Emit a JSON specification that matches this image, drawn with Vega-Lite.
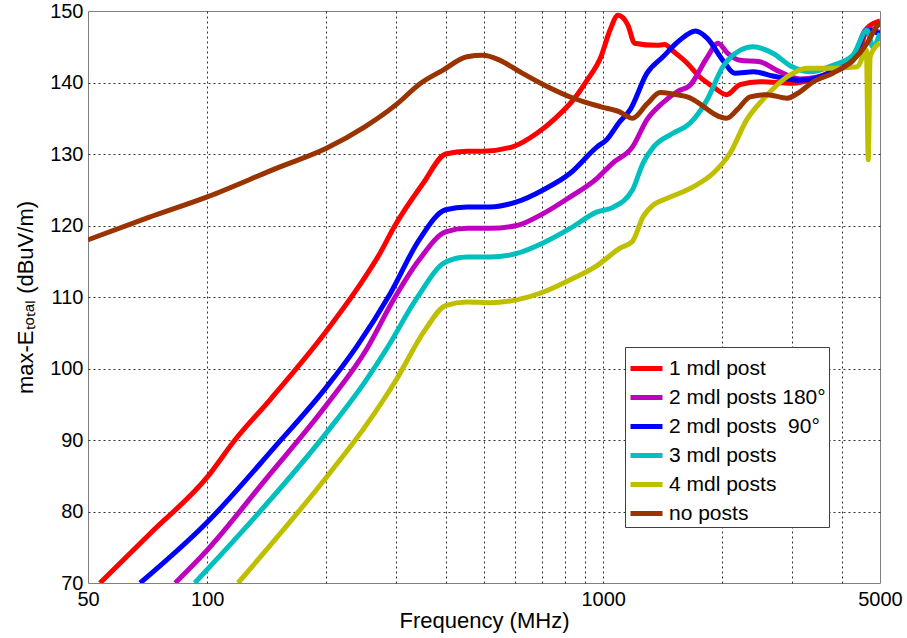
{
  "$schema": "https://vega.github.io/schema/vega-lite/v6.json",
  "width": 792,
  "height": 572,
  "autosize": {"type": "none"},
  "padding": {"left": 88, "top": 11, "right": 27, "bottom": 55},
  "background": "white",
  "config": {
    "font": "Liberation Sans",
    "view": {"stroke": "#808080", "strokeWidth": 1},
    "axis": {
      "gridColor": {"condition": {"test": "datum.value == 50 || datum.value == 5000 || datum.value == 70 || datum.value == 150", "value": "transparent"}, "value": "#303030"},
      "gridDash": [2, 3],
      "gridOpacity": 1,
      "gridWidth": 1,
      "domain": false,
      "ticks": false,
      "labelFontSize": 20,
      "labelColor": "black",
      "titleColor": "black",
      "titleFontWeight": "normal",
      "titleFontSize": 22,
      "labelFont": "Liberation Sans",
      "titleFont": "Liberation Sans"
    }
  },
  "data": {
    "values": [
      {"s": "1 mdl post", "f": 53.6, "e": 70},
      {"s": "1 mdl post", "f": 72, "e": 77},
      {"s": "1 mdl post", "f": 100, "e": 84.8},
      {"s": "1 mdl post", "f": 117.5, "e": 90},
      {"s": "1 mdl post", "f": 145, "e": 95.8},
      {"s": "1 mdl post", "f": 198.5, "e": 105},
      {"s": "1 mdl post", "f": 245, "e": 112},
      {"s": "1 mdl post", "f": 273, "e": 116.1},
      {"s": "1 mdl post", "f": 298, "e": 120},
      {"s": "1 mdl post", "f": 351, "e": 125.9},
      {"s": "1 mdl post", "f": 400, "e": 130},
      {"s": "1 mdl post", "f": 453, "e": 130.4},
      {"s": "1 mdl post", "f": 497, "e": 130.4},
      {"s": "1 mdl post", "f": 590, "e": 131},
      {"s": "1 mdl post", "f": 680, "e": 132.9},
      {"s": "1 mdl post", "f": 764, "e": 135.2},
      {"s": "1 mdl post", "f": 841, "e": 137.6},
      {"s": "1 mdl post", "f": 910, "e": 140.3},
      {"s": "1 mdl post", "f": 987, "e": 143.6},
      {"s": "1 mdl post", "f": 1040, "e": 147.3},
      {"s": "1 mdl post", "f": 1090, "e": 149.4},
      {"s": "1 mdl post", "f": 1155, "e": 148},
      {"s": "1 mdl post", "f": 1200, "e": 145.5},
      {"s": "1 mdl post", "f": 1365, "e": 145.2},
      {"s": "1 mdl post", "f": 1430, "e": 145.3},
      {"s": "1 mdl post", "f": 1500, "e": 144.4},
      {"s": "1 mdl post", "f": 1630, "e": 142.7},
      {"s": "1 mdl post", "f": 1751, "e": 140.8},
      {"s": "1 mdl post", "f": 1895, "e": 139.4},
      {"s": "1 mdl post", "f": 2050, "e": 138.3},
      {"s": "1 mdl post", "f": 2215, "e": 139.7},
      {"s": "1 mdl post", "f": 2486, "e": 140.1},
      {"s": "1 mdl post", "f": 3000, "e": 139.9},
      {"s": "1 mdl post", "f": 3400, "e": 140.5},
      {"s": "1 mdl post", "f": 3800, "e": 141.7},
      {"s": "1 mdl post", "f": 4270, "e": 143.5},
      {"s": "1 mdl post", "f": 4500, "e": 145.5},
      {"s": "1 mdl post", "f": 4640, "e": 147.6},
      {"s": "1 mdl post", "f": 5000, "e": 148.6},

      {"s": "2 mdl posts 180°", "f": 83, "e": 70},
      {"s": "2 mdl posts 180°", "f": 100, "e": 74.6},
      {"s": "2 mdl posts 180°", "f": 140, "e": 84.4},
      {"s": "2 mdl posts 180°", "f": 200, "e": 94.9},
      {"s": "2 mdl posts 180°", "f": 254, "e": 102.9},
      {"s": "2 mdl posts 180°", "f": 294, "e": 109.4},
      {"s": "2 mdl posts 180°", "f": 343, "e": 115.2},
      {"s": "2 mdl posts 180°", "f": 400, "e": 119.1},
      {"s": "2 mdl posts 180°", "f": 453, "e": 119.6},
      {"s": "2 mdl posts 180°", "f": 518, "e": 119.6},
      {"s": "2 mdl posts 180°", "f": 605, "e": 120},
      {"s": "2 mdl posts 180°", "f": 707, "e": 121.7},
      {"s": "2 mdl posts 180°", "f": 825, "e": 124},
      {"s": "2 mdl posts 180°", "f": 965, "e": 126.6},
      {"s": "2 mdl posts 180°", "f": 1055, "e": 128.7},
      {"s": "2 mdl posts 180°", "f": 1186, "e": 131},
      {"s": "2 mdl posts 180°", "f": 1290, "e": 134.8},
      {"s": "2 mdl posts 180°", "f": 1416, "e": 137.2},
      {"s": "2 mdl posts 180°", "f": 1546, "e": 138.8},
      {"s": "2 mdl posts 180°", "f": 1656, "e": 139.6},
      {"s": "2 mdl posts 180°", "f": 1830, "e": 143.5},
      {"s": "2 mdl posts 180°", "f": 1950, "e": 145.5},
      {"s": "2 mdl posts 180°", "f": 2060, "e": 144.1},
      {"s": "2 mdl posts 180°", "f": 2215, "e": 143.1},
      {"s": "2 mdl posts 180°", "f": 2486, "e": 142.9},
      {"s": "2 mdl posts 180°", "f": 2745, "e": 141.7},
      {"s": "2 mdl posts 180°", "f": 3140, "e": 140.5},
      {"s": "2 mdl posts 180°", "f": 3800, "e": 141.5},
      {"s": "2 mdl posts 180°", "f": 4270, "e": 143.3},
      {"s": "2 mdl posts 180°", "f": 4640, "e": 147.5},
      {"s": "2 mdl posts 180°", "f": 5000, "e": 147},

      {"s": "2 mdl posts\u00a0 90°", "f": 67.7, "e": 70},
      {"s": "2 mdl posts\u00a0 90°", "f": 100, "e": 78.5},
      {"s": "2 mdl posts\u00a0 90°", "f": 148, "e": 89},
      {"s": "2 mdl posts\u00a0 90°", "f": 200, "e": 97.4},
      {"s": "2 mdl posts\u00a0 90°", "f": 238, "e": 103},
      {"s": "2 mdl posts\u00a0 90°", "f": 290, "e": 110.5},
      {"s": "2 mdl posts\u00a0 90°", "f": 343, "e": 118},
      {"s": "2 mdl posts\u00a0 90°", "f": 400, "e": 122.2},
      {"s": "2 mdl posts\u00a0 90°", "f": 453, "e": 122.6},
      {"s": "2 mdl posts\u00a0 90°", "f": 518, "e": 122.6},
      {"s": "2 mdl posts\u00a0 90°", "f": 605, "e": 123.3},
      {"s": "2 mdl posts\u00a0 90°", "f": 707, "e": 125},
      {"s": "2 mdl posts\u00a0 90°", "f": 825, "e": 127.3},
      {"s": "2 mdl posts\u00a0 90°", "f": 965, "e": 131},
      {"s": "2 mdl posts\u00a0 90°", "f": 1020, "e": 132},
      {"s": "2 mdl posts\u00a0 90°", "f": 1100, "e": 134.5},
      {"s": "2 mdl posts\u00a0 90°", "f": 1170, "e": 136.2},
      {"s": "2 mdl posts\u00a0 90°", "f": 1290, "e": 141.3},
      {"s": "2 mdl posts\u00a0 90°", "f": 1416, "e": 143.6},
      {"s": "2 mdl posts\u00a0 90°", "f": 1560, "e": 145.9},
      {"s": "2 mdl posts\u00a0 90°", "f": 1710, "e": 147.2},
      {"s": "2 mdl posts\u00a0 90°", "f": 1830, "e": 146.2},
      {"s": "2 mdl posts\u00a0 90°", "f": 2005, "e": 143.1},
      {"s": "2 mdl posts\u00a0 90°", "f": 2150, "e": 141.3},
      {"s": "2 mdl posts\u00a0 90°", "f": 2400, "e": 141.5},
      {"s": "2 mdl posts\u00a0 90°", "f": 2680, "e": 140.9},
      {"s": "2 mdl posts\u00a0 90°", "f": 3140, "e": 140.3},
      {"s": "2 mdl posts\u00a0 90°", "f": 3800, "e": 141.5},
      {"s": "2 mdl posts\u00a0 90°", "f": 4270, "e": 143.1},
      {"s": "2 mdl posts\u00a0 90°", "f": 4640, "e": 147.3},
      {"s": "2 mdl posts\u00a0 90°", "f": 5000, "e": 146.8},

      {"s": "3 mdl posts", "f": 93, "e": 70},
      {"s": "3 mdl posts", "f": 121.6, "e": 77},
      {"s": "3 mdl posts", "f": 200, "e": 91},
      {"s": "3 mdl posts", "f": 250, "e": 98.1},
      {"s": "3 mdl posts", "f": 285, "e": 102.9},
      {"s": "3 mdl posts", "f": 338, "e": 109.8},
      {"s": "3 mdl posts", "f": 400, "e": 114.9},
      {"s": "3 mdl posts", "f": 453, "e": 115.6},
      {"s": "3 mdl posts", "f": 518, "e": 115.6},
      {"s": "3 mdl posts", "f": 605, "e": 116.1},
      {"s": "3 mdl posts", "f": 707, "e": 117.6},
      {"s": "3 mdl posts", "f": 825, "e": 119.6},
      {"s": "3 mdl posts", "f": 965, "e": 121.9},
      {"s": "3 mdl posts", "f": 1055, "e": 122.5},
      {"s": "3 mdl posts", "f": 1186, "e": 125},
      {"s": "3 mdl posts", "f": 1260, "e": 128.7},
      {"s": "3 mdl posts", "f": 1340, "e": 131},
      {"s": "3 mdl posts", "f": 1500, "e": 132.9},
      {"s": "3 mdl posts", "f": 1656, "e": 134.3},
      {"s": "3 mdl posts", "f": 1830, "e": 137.6},
      {"s": "3 mdl posts", "f": 2005, "e": 142.2},
      {"s": "3 mdl posts", "f": 2215, "e": 144.5},
      {"s": "3 mdl posts", "f": 2390, "e": 145},
      {"s": "3 mdl posts", "f": 2680, "e": 144.1},
      {"s": "3 mdl posts", "f": 3000, "e": 142.2},
      {"s": "3 mdl posts", "f": 3335, "e": 141.5},
      {"s": "3 mdl posts", "f": 3800, "e": 142.4},
      {"s": "3 mdl posts", "f": 4270, "e": 143.8},
      {"s": "3 mdl posts", "f": 4640, "e": 147.3},
      {"s": "3 mdl posts", "f": 4795, "e": 145},
      {"s": "3 mdl posts", "f": 5000, "e": 146.9},

      {"s": "4 mdl posts", "f": 119.6, "e": 70},
      {"s": "4 mdl posts", "f": 200, "e": 84.8},
      {"s": "4 mdl posts", "f": 250, "e": 91.8},
      {"s": "4 mdl posts", "f": 300, "e": 98.4},
      {"s": "4 mdl posts", "f": 355, "e": 105.4},
      {"s": "4 mdl posts", "f": 400, "e": 108.8},
      {"s": "4 mdl posts", "f": 453, "e": 109.3},
      {"s": "4 mdl posts", "f": 518, "e": 109.2},
      {"s": "4 mdl posts", "f": 605, "e": 109.6},
      {"s": "4 mdl posts", "f": 707, "e": 110.7},
      {"s": "4 mdl posts", "f": 825, "e": 112.4},
      {"s": "4 mdl posts", "f": 965, "e": 114.4},
      {"s": "4 mdl posts", "f": 1100, "e": 116.8},
      {"s": "4 mdl posts", "f": 1186, "e": 117.8},
      {"s": "4 mdl posts", "f": 1260, "e": 121.2},
      {"s": "4 mdl posts", "f": 1340, "e": 122.9},
      {"s": "4 mdl posts", "f": 1450, "e": 123.8},
      {"s": "4 mdl posts", "f": 1686, "e": 125.4},
      {"s": "4 mdl posts", "f": 1895, "e": 127.3},
      {"s": "4 mdl posts", "f": 2090, "e": 130.1},
      {"s": "4 mdl posts", "f": 2305, "e": 134.8},
      {"s": "4 mdl posts", "f": 2530, "e": 137.6},
      {"s": "4 mdl posts", "f": 2915, "e": 140.8},
      {"s": "4 mdl posts", "f": 3275, "e": 142},
      {"s": "4 mdl posts", "f": 3800, "e": 142},
      {"s": "4 mdl posts", "f": 4380, "e": 142.2},
      {"s": "4 mdl posts", "f": 4620, "e": 144.5},
      {"s": "4 mdl posts", "f": 4670, "e": 129.2},
      {"s": "4 mdl posts", "f": 4720, "e": 143.5},
      {"s": "4 mdl posts", "f": 4800, "e": 144.5},
      {"s": "4 mdl posts", "f": 5000, "e": 145.5},

      {"s": "no posts", "f": 50, "e": 118},
      {"s": "no posts", "f": 70.9, "e": 121.1},
      {"s": "no posts", "f": 100, "e": 124},
      {"s": "no posts", "f": 151, "e": 128.1},
      {"s": "no posts", "f": 200, "e": 130.8},
      {"s": "no posts", "f": 250, "e": 133.8},
      {"s": "no posts", "f": 273, "e": 135.2},
      {"s": "no posts", "f": 300, "e": 136.9},
      {"s": "no posts", "f": 346, "e": 139.9},
      {"s": "no posts", "f": 393, "e": 141.7},
      {"s": "no posts", "f": 453, "e": 143.6},
      {"s": "no posts", "f": 497, "e": 143.8},
      {"s": "no posts", "f": 549, "e": 143.1},
      {"s": "no posts", "f": 616, "e": 141.5},
      {"s": "no posts", "f": 707, "e": 139.7},
      {"s": "no posts", "f": 841, "e": 137.8},
      {"s": "no posts", "f": 987, "e": 136.6},
      {"s": "no posts", "f": 1100, "e": 135.9},
      {"s": "no posts", "f": 1186, "e": 135},
      {"s": "no posts", "f": 1290, "e": 137},
      {"s": "no posts", "f": 1392, "e": 138.6},
      {"s": "no posts", "f": 1500, "e": 138.4},
      {"s": "no posts", "f": 1630, "e": 138},
      {"s": "no posts", "f": 2050, "e": 135},
      {"s": "no posts", "f": 2180, "e": 136.2},
      {"s": "no posts", "f": 2350, "e": 138},
      {"s": "no posts", "f": 2590, "e": 138.3},
      {"s": "no posts", "f": 2915, "e": 137.8},
      {"s": "no posts", "f": 3140, "e": 138.7},
      {"s": "no posts", "f": 3390, "e": 140.1},
      {"s": "no posts", "f": 3800, "e": 141.3},
      {"s": "no posts", "f": 4270, "e": 143.1},
      {"s": "no posts", "f": 4640, "e": 145.5},
      {"s": "no posts", "f": 4900, "e": 147.8},
      {"s": "no posts", "f": 5000, "e": 148.3}
    ]
  },
  "mark": {"type": "line", "strokeWidth": 5, "clip": true, "strokeJoin": "round", "strokeCap": "butt", "interpolate": "monotone"},
  "encoding": {
    "x": {
      "field": "f",
      "type": "quantitative",
      "scale": {"type": "log", "domain": [50, 5000], "nice": false},
      "axis": {
        "values": [50, 100, 200, 300, 400, 500, 600, 700, 800, 900, 1000, 2000, 3000, 4000, 5000],
        "labelExpr": "datum.value == 50 || datum.value == 100 || datum.value == 1000 || datum.value == 5000 ? format(datum.value, 'd') : ''",
        "title": "Frequency (MHz)",
        "labelPadding": 6,
        "titlePadding": 1,
        "labelFlush": false,
        "labelOverlap": false
      }
    },
    "y": {
      "field": "e",
      "type": "quantitative",
      "scale": {"domain": [70, 150], "nice": false, "zero": false},
      "axis": {
        "values": [70, 80, 90, 100, 110, 120, 130, 140, 150],
        "title": "max-Eₜₒₜₐₗ (dBuV/m)",
        "labelPadding": 5,
        "titlePadding": 12,
        "labelFlush": false
      }
    },
    "color": {
      "field": "s",
      "type": "nominal",
      "sort": null,
      "scale": {
        "domain": ["1 mdl post", "2 mdl posts 180°", "2 mdl posts\u00a0 90°", "3 mdl posts", "4 mdl posts", "no posts"],
        "range": ["#ff0000", "#bf00bf", "#0000ff", "#00bfbf", "#bfbf00", "#993300"]
      },
      "legend": {
        "orient": "none",
        "legendX": 537,
        "legendY": 336,
        "title": null,
        "symbolType": "stroke",
        "symbolStrokeWidth": 5,
        "symbolSize": 1024,
        "labelFontSize": 21,
        "labelFont": "Liberation Sans",
        "labelColor": "black",
        "strokeColor": "#404040",
        "fillColor": "white",
        "padding": 3,
        "rowPadding": 0,
        "labelOffset": 4,
        "labelLimit": 300
      }
    }
  }
}
